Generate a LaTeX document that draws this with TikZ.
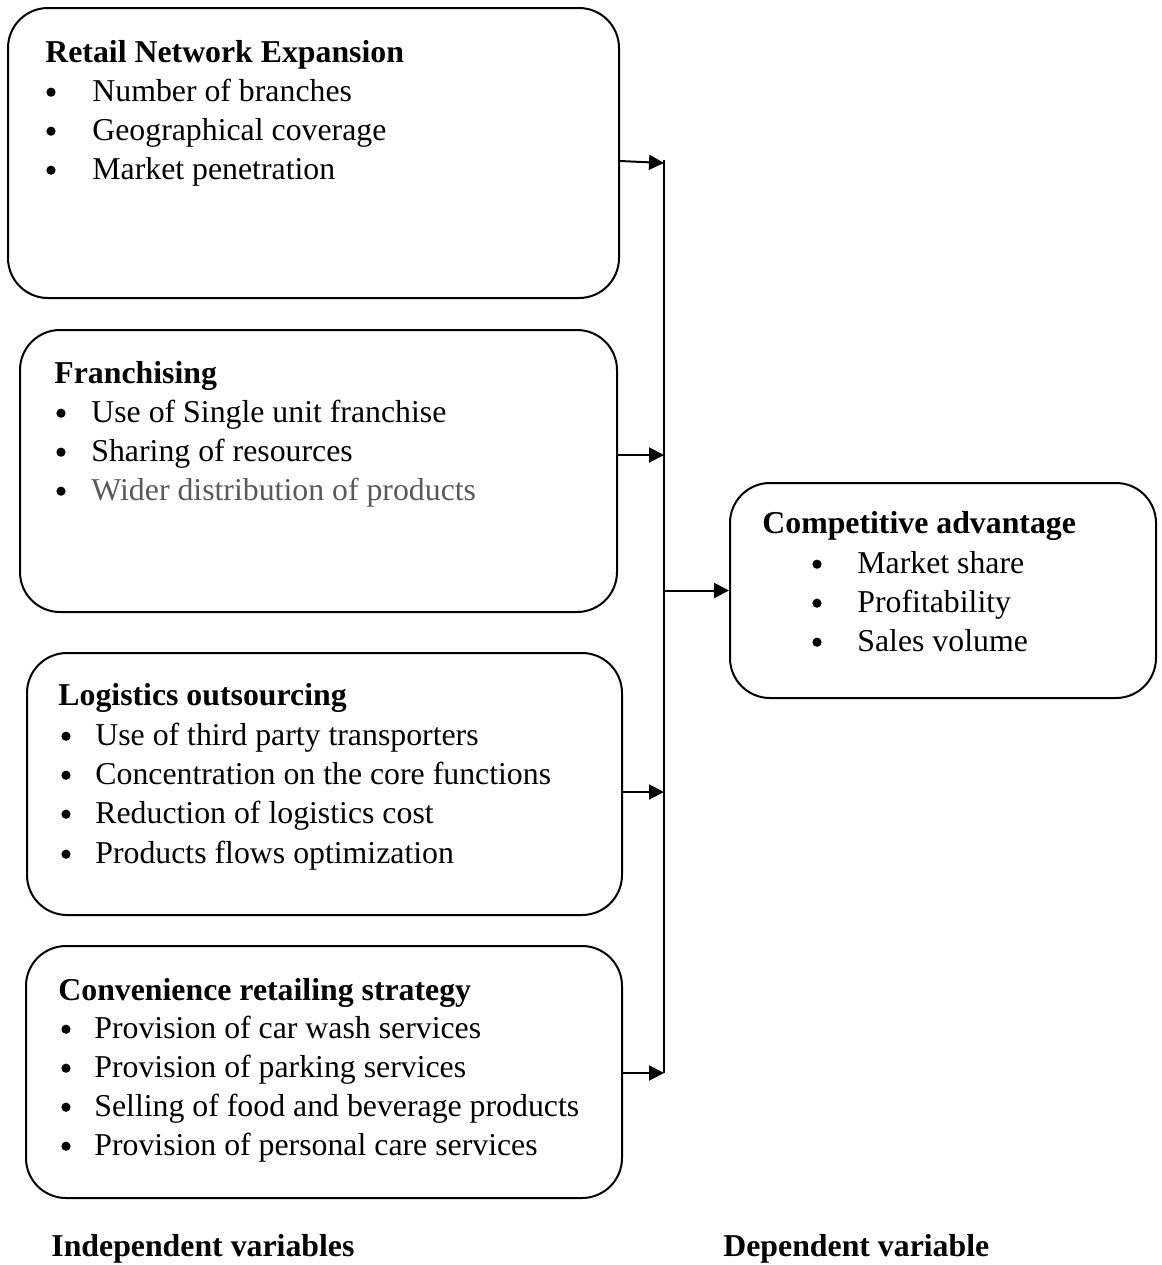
\documentclass[tikz,border=0pt]{standalone}
\usepackage{fontspec}
\setmainfont{Liberation Serif}
\usetikzlibrary{arrows.meta}
\definecolor{grytxt}{HTML}{595959}
\tikzset{
  box/.style={draw=black, line width=1pt, rounded corners=20pt, rectangle, inner sep=0pt},
  head/.style={anchor=base west, inner sep=0pt, font=\fontsize{15.9pt}{19pt}\selectfont\bfseries},
  item/.style={anchor=base west, inner sep=0pt, font=\fontsize{15.9pt}{19pt}\selectfont},
  bul/.style={circle, fill=black, draw=none, inner sep=0pt, minimum size=4.6pt, yshift=4.4pt},
  arr/.style={line width=1pt, -{Triangle[length=7.5pt,width=7.5pt]}},
  bus/.style={line width=1pt}
}
\begin{document}
\begin{tikzpicture}[x=0.5pt,y=-0.5pt]
\useasboundingbox (0,0) rectangle (1162,1265);
% boxes
\node[box, minimum width=305.5pt, minimum height=145pt] (b1) at (313.5,153) {};
\node[box, minimum width=298.5pt, minimum height=141pt] (b2) at (318.5,471) {};
\node[box, minimum width=297.5pt, minimum height=131pt] (b3) at (324.5,784) {};
\node[box, minimum width=298pt, minimum height=126pt] (b4) at (324,1072) {};
\node[box, minimum width=213pt, minimum height=107.5pt] (comp) at (943,590.5) {};
% box 1
\node[head] (h1) at (45,62) {Retail Network Expansion};
\node[bul] (p11) at (51,101) {};
\node[item] (t11) at (92,101) {Number of branches};
\node[bul] (p12) at (51,140) {};
\node[item] (t12) at (92,140) {Geographical coverage};
\node[bul] (p13) at (51,179) {};
\node[item] (t13) at (92,179) {Market penetration};
% box 2
\node[head] (h2) at (54,383) {Franchising};
\node[bul] (p21) at (61,422) {};
\node[item] (t21) at (91,422) {Use of Single unit franchise};
\node[bul] (p22) at (61,461) {};
\node[item] (t22) at (91,461) {Sharing of resources};
\node[bul] (p23) at (61,500) {};
\node[item, text=grytxt] (t23) at (91,500) {Wider distribution of products};
% box 3
\node[head] (h3) at (58,705) {Logistics outsourcing};
\node[bul] (p31) at (66,745) {};
\node[item] (t31) at (95,745) {Use of third party transporters};
\node[bul] (p32) at (66,784) {};
\node[item] (t32) at (95,784) {Concentration on the core functions};
\node[bul] (p33) at (66,823) {};
\node[item] (t33) at (95,823) {Reduction of logistics cost};
\node[bul] (p34) at (66,863) {};
\node[item] (t34) at (95,863) {Products flows optimization};
% box 4
\node[head] (h4) at (58,1000) {Convenience retailing strategy};
\node[bul] (p41) at (66,1038) {};
\node[item] (t41) at (94,1038) {Provision of car wash services};
\node[bul] (p42) at (66,1077) {};
\node[item] (t42) at (94,1077) {Provision of parking services};
\node[bul] (p43) at (66,1116) {};
\node[item] (t43) at (94,1116) {Selling of food and beverage products};
\node[bul] (p44) at (66,1155) {};
\node[item] (t44) at (94,1155) {Provision of personal care services};
% competitive advantage
\node[head] (hc) at (762,533) {Competitive advantage};
\node[bul] (pc1) at (817,573) {};
\node[item] (tc1) at (857,573) {Market share};
\node[bul] (pc2) at (817,612) {};
\node[item] (tc2) at (857,612) {Profitability};
\node[bul] (pc3) at (817,651) {};
\node[item] (tc3) at (857,651) {Sales volume};
% captions
\node[head] (ind) at (51,1256) {Independent variables};
\node[head] (dep) at (723,1256) {Dependent variable};
% bus line and junctions
\coordinate (top) at (664,160);
\coordinate (j1) at (664,163);
\coordinate (j2) at (664,455);
\coordinate (j3) at (664,590.5);
\coordinate (j4) at (664,792);
\coordinate (j5) at (664,1073);
\draw[bus] (top) -- (j5);
\draw[arr] (b1.east |- 0,161) -- (j1);
\draw[arr] (b2.east |- j2) -- (j2);
\draw[arr] (b3.east |- j4) -- (j4);
\draw[arr] (b4.east |- j5) -- (j5);
\draw[arr] (j3) -- (comp.west);
\end{tikzpicture}
\end{document}
